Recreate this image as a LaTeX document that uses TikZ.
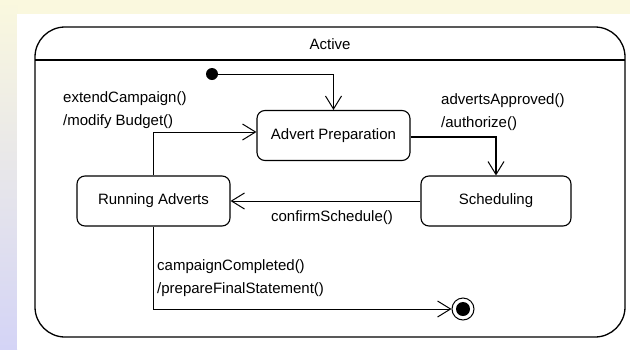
\documentclass[tikz,border=0pt]{standalone}
\usepackage{fontspec}
\setmainfont{Liberation Sans}
\usetikzlibrary{arrows.meta}
\definecolor{cream}{RGB}{250,248,222}
\definecolor{lavender}{RGB}{212,212,246}
\begin{document}
\begin{tikzpicture}[x=1pt,y=-1pt,
  txt/.style={font=\fontsize{15}{23}\selectfont, inner sep=0pt},
  statebox/.style={txt, draw, line width=1.1pt, rounded corners=8pt,
    minimum width=153pt, minimum height=50pt},
  lbl/.style={txt, align=left, anchor=west},
  tr/.style={draw, line width=1pt, -{Straight Barb[length=13pt,width=16pt,line width=1pt]}},
]
% page background: cream band on top, shaded strip on the left
\useasboundingbox (0,0) rectangle (630,349);
\fill[cream] (0,0) rectangle (630,349);
\shade[top color=cream, bottom color=lavender] (0,0) rectangle (17,349);
\fill[white] (17,14) rectangle (630,349);

% enclosing composite state
\node[draw, line width=1.3pt, rounded corners=30pt, minimum width=590pt,
  minimum height=310pt, inner sep=0pt] (active) at (330,182) {};
\coordinate (divl) at (35,60);
\coordinate (divr) at (625,60);
\draw[line width=1.1pt] (divl) -- (divr);
\node[txt] (title) at (330,44) {Active};

% states
\node[statebox] (prep) at (333.5,135.5) {Advert Preparation};
\node[statebox, minimum width=150pt] (sched) at (496,201) {Scheduling};
\node[statebox] (run) at (153.5,201) {Running Adverts};

% pseudo states
\node[circle, fill=black, minimum size=12pt, inner sep=0pt] (init) at (212,74) {};
\node[circle, draw, line width=1pt, minimum size=22pt, inner sep=0pt] (final) at (463,309) {};
\node[circle, fill=black, minimum size=14pt, inner sep=0pt] (finalcore) at (final.center) {};

% transitions
\draw[tr] (init) -| (prep.north);
\draw[tr, line width=1.8pt] ([yshift=-1.5pt]prep.east) -| (sched.north);
\draw[tr] (sched.west) -- (run.east);
\draw[tr] (run.north) |- ([yshift=3.5pt]prep.west);
\draw[tr] (run.south) |- (final.west);

% transition labels
\node[lbl] (lext) at (63,110) {extendCampaign()\\/modify Budget()};
\node[lbl] (ladv) at (441,112) {advertsApproved()\\/authorize()};
\node[txt] (lconf) at (332,218) {confirmSchedule()};
\node[lbl] (lcomp) at (157,278.5) {campaignCompleted()\\/prepareFinalStatement()};
\end{tikzpicture}
\end{document}
